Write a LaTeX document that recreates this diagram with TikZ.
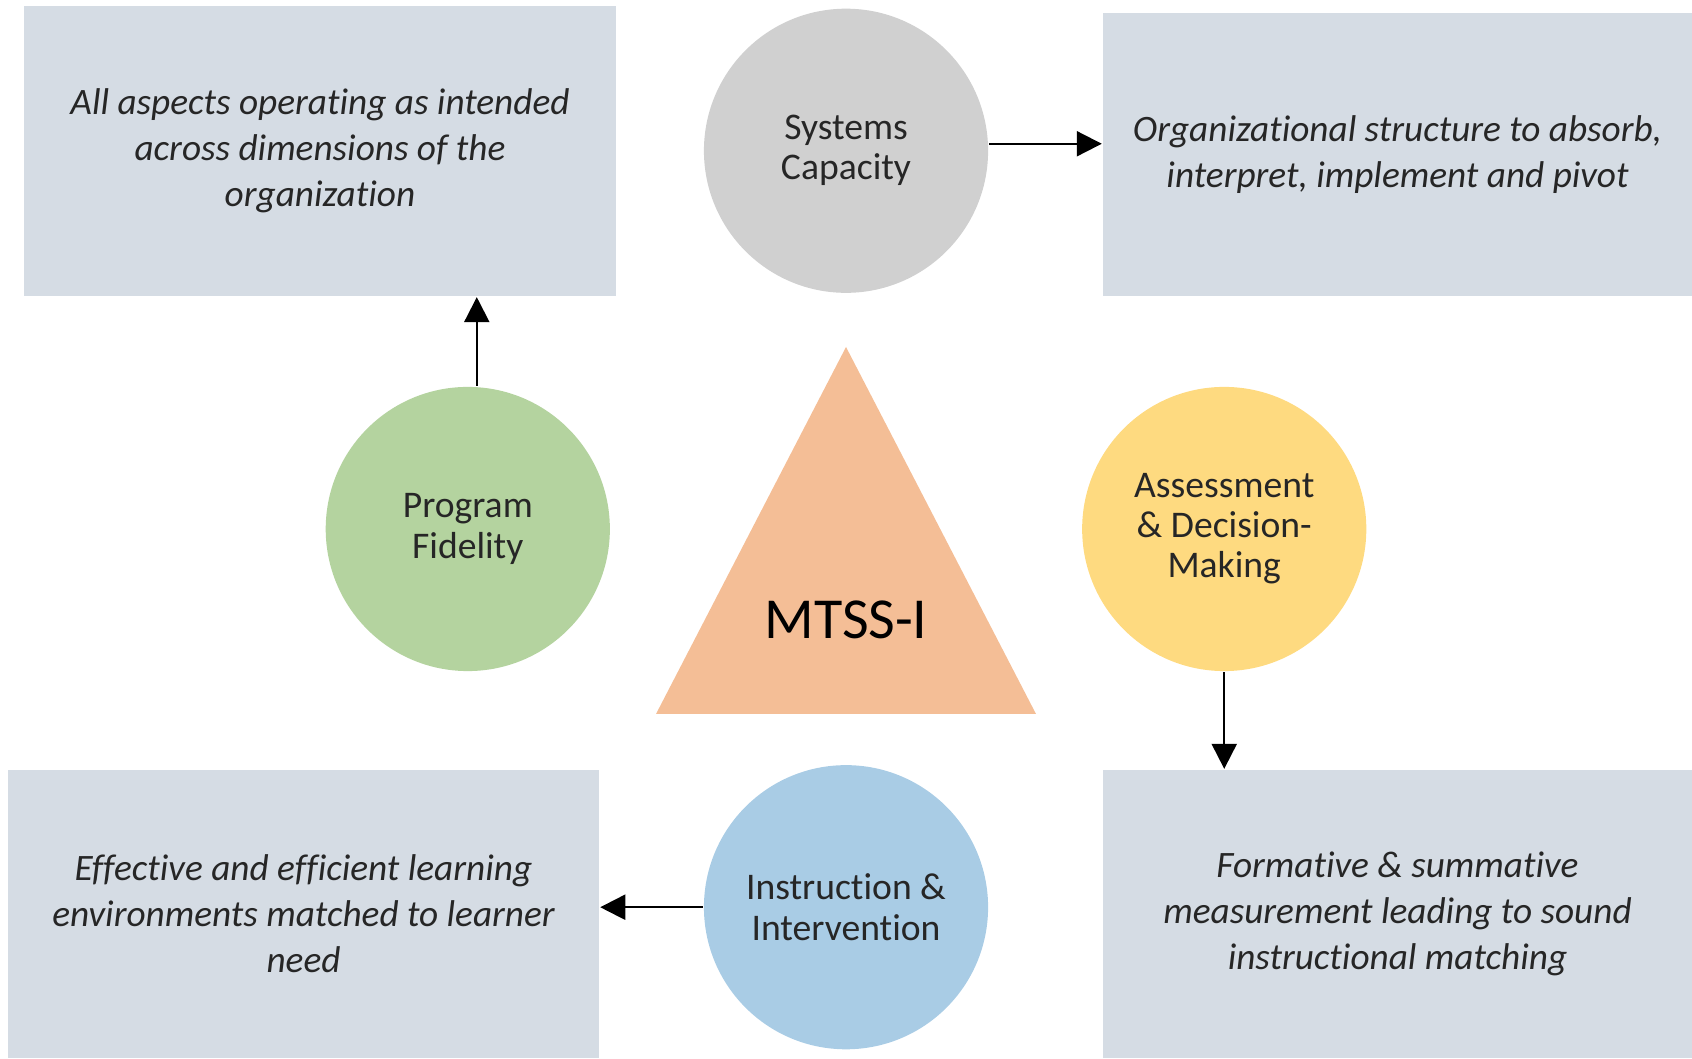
\documentclass[tikz,border=0pt]{standalone}
\usepackage{fontspec}
\setmainfont{Carlito}[Ligatures=NoCommon]
\usetikzlibrary{positioning,arrows.meta}

\definecolor{boxgray}{HTML}{D5DCE4}
\definecolor{scgray}{HTML}{D0D0D0}
\definecolor{pfgreen}{HTML}{B4D39F}
\definecolor{adyellow}{HTML}{FEDA80}
\definecolor{iiblue}{HTML}{A9CCE5}
\definecolor{trorange}{HTML}{F4BE96}
\definecolor{textdark}{HTML}{262626}

\begin{document}
\begin{tikzpicture}[x=0.01cm, y=0.01cm, node distance=3.78cm,
    >={Triangle[length=0.25cm,width=0.25cm]}, line width=0.6pt,
    main node/.style={circle,minimum size=2.84cm,inner sep=0pt,align=center,
        text=textdark,font=\fontsize{10.7}{11.4}\selectfont},
    info box/.style={rectangle,fill=boxgray,inner sep=0pt,align=center,
        text=textdark,font=\fontsize{10.6}{13.1}\selectfont\itshape},]

\useasboundingbox (0,0) rectangle (1692,1058);

% centre triangle
\fill[trorange] (656,344) -- (846,711) -- (1036,344) -- cycle;
\coordinate (c) at (846,529);
\node[font=\fontsize{16.5}{18}\selectfont] (mtss) at (846,438) {MTSS-I};

\node[main node, fill=scgray] (sc) [above of=c] {Systems\\Capacity};
\node[main node, fill=pfgreen] (pf) [left of=c] {Program\\Fidelity};
\node[main node, fill=adyellow] (ad) [right of=c] {Assessment\\\& Decision-\\Making};
\node[main node, fill=iiblue] (ii) [below of=c] {Instruction \&\\Intervention};

% outcome boxes
\node[info box, minimum width=5.92cm, minimum height=2.90cm] (tl) at (320,907)
    {All aspects operating as intended\\across dimensions of the\\organization};
\node[info box, minimum width=5.89cm, minimum height=2.83cm] (tr) at (1397.5,903.5)
    {Organizational structure to absorb,\\interpret, implement and pivot};
\node[info box, minimum width=5.91cm, minimum height=2.88cm] (bl) at (303.5,144)
    {Effective and efficient learning\\environments matched to learner\\need};
\node[info box, minimum width=5.89cm, minimum height=2.88cm] (br) at (1397.5,144)
    {Formative \& summative\\measurement leading to sound\\instructional matching};

\path
([yshift=0.07cm]sc.east) edge [->] ([yshift=0.07cm]sc.east -| tr.west)
([xshift=0.09cm]pf.north) edge [->] ([xshift=0.09cm]pf.north |- tl.south)
(ad.south) edge [->] (ad.south |- br.north)
(ii.west) edge [->] (ii.west -| bl.east);

\end{tikzpicture}
\end{document}
